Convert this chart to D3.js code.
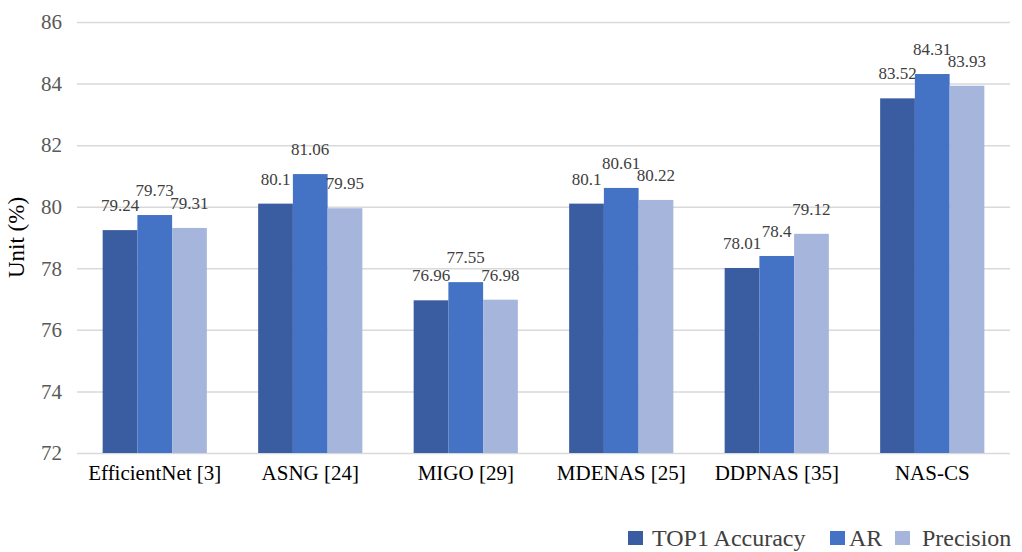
<!DOCTYPE html>
<html>
<head>
<meta charset="utf-8">
<script src="https://cdn.jsdelivr.net/npm/d3@7/dist/d3.min.js"></script>
<style>
  html, body { margin: 0; padding: 0; background: #fff; }
  svg { display: block; }
</style>
</head>
<body>
<svg id="chart" width="1022" height="552" font-family="Liberation Serif"></svg>
<script>
// Model names along the x axis
const categories = ["EfficientNet [3]", "ASNG [24]", "MIGO [29]", "MDENAS [25]", "DDPNAS [35]", "NAS-CS"];
// Metrics drawn for each model
const seriesNames = ["TOP1 Accuracy", "AR", "Precision"];
const top1 = [79.24, 80.1, 76.96, 80.1, 78.01, 83.52];
const ar = [79.73, 81.06, 77.55, 80.61, 78.4, 84.31];
const precision = [79.31, 79.95, 76.98, 80.22, 79.12, 83.93];
const yTicks = [72, 74, 76, 78, 80, 82, 84, 86];

const colors = ["#3a5ca0", "#4472c4", "#a6b5dc"];
const seriesValues = [top1, ar, precision];

const svg = d3.select("#chart");
const font = "Liberation Serif";
const margin = { left: 77, right: 12, top: 22 };
const W = 1022;
const plotBottom = 453;

const x = d3.scaleBand().domain(categories).range([margin.left, W - margin.right]).paddingInner(0.33).paddingOuter(0.165);
const xs = d3.scaleBand().domain(seriesNames).range([0, x.bandwidth()]);
const y = d3.scaleLinear().domain([72, 86]).range([plotBottom, margin.top]);

// Horizontal gridlines and y tick labels
const yAxis = d3.axisLeft(y).tickValues(yTicks).tickSize(-(W - margin.right - margin.left)).tickPadding(15).tickFormat(d3.format("d"));
const gy = svg.append("g").attr("transform", `translate(${margin.left},0)`).call(yAxis);
gy.attr("font-family", font).attr("font-size", 21);
gy.select(".domain").remove();
gy.selectAll(".tick line").attr("stroke", "#d9d9d9").attr("stroke-width", 1.5);
gy.selectAll(".tick text").attr("fill", "#595959").attr("font-family", font).attr("font-size", 21);

// Bars with value labels above them
const groups = svg.append("g").selectAll("g").data(categories).join("g")
  .attr("transform", d => `translate(${x(d)},0)`);

groups.each(function (cat, i) {
  const g = d3.select(this);
  seriesNames.forEach((s, j) => {
    const v = seriesValues[j][i];
    g.append("rect")
      .attr("x", xs(s))
      .attr("y", y(v))
      .attr("width", xs.bandwidth())
      .attr("height", plotBottom - y(v))
      .attr("fill", colors[j]);
    g.append("text")
      .attr("x", xs(s) + xs.bandwidth() / 2)
      .attr("y", y(v) - 19)
      .attr("text-anchor", "middle")
      .attr("fill", "#404040")
      .attr("font-family", font)
      .attr("font-size", 17)
      .text(v);
  });
});

// Category labels
const xAxis = d3.axisBottom(x).tickSize(0).tickPadding(12);
const gx = svg.append("g").attr("transform", `translate(0,${plotBottom})`).call(xAxis);
gx.attr("font-family", font).attr("font-size", 21);
gx.select(".domain").remove();
gx.selectAll(".tick text").attr("fill", "#000").attr("font-family", font).attr("font-size", 21);

// Axis title
svg.append("text")
  .attr("transform", `translate(24,${(margin.top + plotBottom) / 2}) rotate(-90)`)
  .attr("text-anchor", "middle")
  .attr("fill", "#000")
  .attr("font-family", font)
  .attr("font-size", 23)
  .text("Unit (%)");

// Legend
const legendBox = [628, 830, 895];
const legendText = [652, 849, 922];
const legend = svg.append("g");
seriesNames.forEach((s, j) => {
  legend.append("rect").attr("x", legendBox[j]).attr("y", 531).attr("width", 15).attr("height", 14).attr("fill", colors[j]);
  legend.append("text")
    .attr("x", legendText[j])
    .attr("y", 546)
    .attr("fill", "#404040")
    .attr("font-family", font)
    .attr("font-size", 24)
    .text(s);
});
</script>
</body>
</html>
